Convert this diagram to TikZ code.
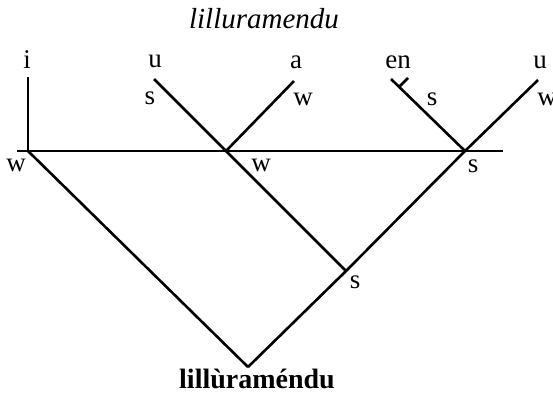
\documentclass[tikz,border=0pt]{standalone}
\usepackage{fontspec}
\setmainfont{Liberation Serif}
\begin{document}
\begin{tikzpicture}[x=1pt,y=-1pt,
  lab/.style={anchor=base,inner sep=0pt,font=\fontsize{27}{30}\selectfont},
  branch/.style={line width=2.6pt},
  tier/.style={line width=2pt}]
\useasboundingbox (0,0) rectangle (553,394);
% junctions and ends
\coordinate (W) at (28,151);
\coordinate (M) at (226,151);
\coordinate (R) at (465,151);
\coordinate (S) at (346,271);
\coordinate (B) at (248,367);
\coordinate (iTop) at (28,77);
\coordinate (uTop) at (154,79);
\coordinate (aTop) at (294,81);
\coordinate (enTop) at (391,79);
\coordinate (u2Top) at (538,80);
\coordinate (hL) at (17,151);
\coordinate (hR) at (503,151);
\coordinate (tk) at (399,87);
\coordinate (tkEnd) at (408,78);
% lines
\draw[tier] (hL) -- (hR);
\draw[branch] (iTop) -- (W);
\draw[branch] (uTop) -- (M);
\draw[branch] (aTop) -- (M);
\draw[branch] (enTop) -- (R);
\draw[branch] (tk) -- (tkEnd);
\draw[branch] (u2Top) -- (R) -- (S) -- (B);
\draw[branch] (M) -- (S);
\draw[branch] (W) -- (B);
% texts
\node[lab,font=\fontsize{29}{32}\selectfont\itshape] (title) at (264,28) {lilluramendu};
\node[lab] (li) at (27,68) {i};
\node[lab] (lu) at (155,67) {u};
\node[lab] (la) at (296,68) {a};
\node[lab] (len) at (398,68) {en};
\node[lab] (lu2) at (540,68) {u};
\node[lab] (su) at (150,104) {s};
\node[lab] (wa) at (303,105) {w};
\node[lab] (sen) at (432,105) {s};
\node[lab] (wu2) at (547,105) {w};
\node[lab] (wW) at (16,171) {w};
\node[lab] (wM) at (261,171) {w};
\node[lab] (sR) at (473,172) {s};
\node[lab] (sS) at (355,288) {s};
\node[lab,font=\fontsize{28}{31}\selectfont\bfseries] (bot) at (257,388) {lillùraméndu};
\end{tikzpicture}
\end{document}
